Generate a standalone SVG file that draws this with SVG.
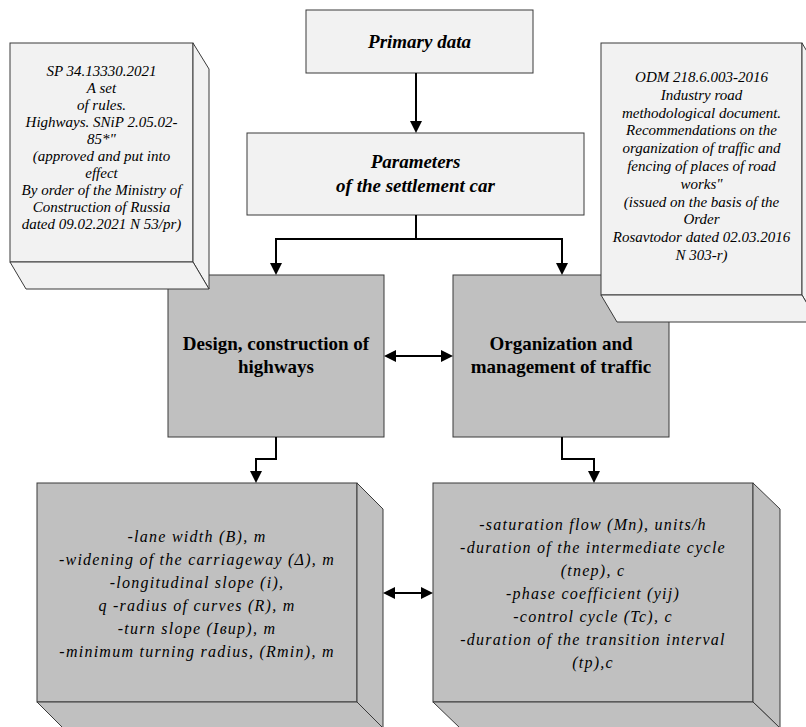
<svg xmlns="http://www.w3.org/2000/svg" width="806" height="727" viewBox="0 0 806 727">
<defs>
<style>
.light{fill:#f2f2f2;stroke:#3a3a3a;stroke-width:1}
.gray{fill:#c0c0c0;stroke:#3a3a3a;stroke-width:1}
.conn{stroke:#000;stroke-width:2;fill:none;stroke-linejoin:miter}
text{font-family:"Liberation Serif","Times New Roman",serif;fill:#000;text-anchor:middle}
.bi{font-weight:bold;font-style:italic;font-size:19px}
.b{font-weight:bold;font-size:19px}
.s{font-style:italic;font-size:15px}
.m{font-style:italic;font-size:16px;letter-spacing:1.25px}
</style>
<marker id="ah" viewBox="0 0 12 12" refX="6" refY="6" markerWidth="12" markerHeight="12" markerUnits="userSpaceOnUse" orient="auto-start-reverse">
<path d="M0,0 L12,6 L0,12 z" fill="#000"/>
</marker>
</defs>
<rect width="806" height="727" fill="#fff"/>

<g id="primary-data">
<rect class="light" x="306" y="10" width="227" height="63"/>
<text class="bi" x="419.5" y="48">Primary data</text>
</g>

<g id="parameters">
<rect class="light" x="247" y="133" width="337" height="82"/>
<text class="bi" x="415.5" y="168">Parameters</text>
<text class="bi" x="415.5" y="192">of the settlement car</text>
</g>

<g id="design">
<rect class="gray" x="168" y="275" width="216" height="162"/>
<text class="b" x="276" y="350">Design, construction of</text>
<text class="b" x="276" y="373">highways</text>
</g>

<g id="organization">
<rect class="gray" x="453" y="275" width="216" height="162"/>
<text class="b" x="561" y="350">Organization and</text>
<text class="b" x="561" y="373">management of traffic</text>
</g>

<g id="sp-rules">
<rect class="light" x="10" y="43" width="183" height="219"/>
<polygon class="light" points="193,43 209,69 209,289 193,262"/>
<polygon class="light" points="10,262 193,262 209,289 26,289"/>
<text class="s" x="101.5" y="76">SP 34.13330.2021</text>
<text class="s" x="101.5" y="93">A set</text>
<text class="s" x="101.5" y="110">of rules.</text>
<text class="s" x="101.5" y="127">Highways. SNiP 2.05.02-</text>
<text class="s" x="101.5" y="144">85*"</text>
<text class="s" x="101.5" y="161">(approved and put into</text>
<text class="s" x="101.5" y="178">effect</text>
<text class="s" x="101.5" y="195">By order of the Ministry of</text>
<text class="s" x="101.5" y="212">Construction of Russia</text>
<text class="s" x="101.5" y="229">dated 09.02.2021 N 53/pr)</text>
</g>

<g id="odm">
<rect class="light" x="601" y="43" width="201" height="252"/>
<polygon class="light" points="802,43 818,70 818,322 802,295"/>
<polygon class="light" points="601,295 802,295 818,322 617,322"/>
<text class="s" x="701.5" y="82">ODM 218.6.003-2016</text>
<text class="s" x="701.5" y="99.8">Industry road</text>
<text class="s" x="701.5" y="117.6">methodological document.</text>
<text class="s" x="701.5" y="135.4">Recommendations on the</text>
<text class="s" x="701.5" y="153.2">organization of traffic and</text>
<text class="s" x="701.5" y="171">fencing of places of road</text>
<text class="s" x="701.5" y="188.8">works"</text>
<text class="s" x="701.5" y="206.6">(issued on the basis of the</text>
<text class="s" x="701.5" y="224.4">Order</text>
<text class="s" x="701.5" y="242.2">Rosavtodor dated 02.03.2016</text>
<text class="s" x="701.5" y="260">N 303-r)</text>
</g>

<g id="road-params">
<rect class="gray" x="37" y="483" width="320" height="219"/>
<polygon class="gray" points="357,483 383,509 383,728 357,702"/>
<polygon class="gray" points="37,702 357,702 383,728 63,728"/>
<text class="m" x="197" y="542">-lane width (B), m</text>
<text class="m" x="197" y="565">-widening of the carriageway (Δ), m</text>
<text class="m" x="197" y="588">-longitudinal slope (i),</text>
<text class="m" x="197" y="611">q -radius of curves (R), m</text>
<text class="m" x="197" y="634">-turn slope (Iвир), m</text>
<text class="m" x="197" y="657">-minimum turning radius, (Rmin), m</text>
</g>

<g id="traffic-params">
<rect class="gray" x="433" y="483" width="320" height="219"/>
<polygon class="gray" points="753,483 780,509 780,728 753,702"/>
<polygon class="gray" points="433,702 753,702 780,728 460,728"/>
<text class="m" x="593" y="530">-saturation flow (Mn), units/h</text>
<text class="m" x="593" y="553">-duration of the intermediate cycle</text>
<text class="m" x="593" y="576">(tnep), c</text>
<text class="m" x="593" y="599">-phase coefficient (yij)</text>
<text class="m" x="593" y="622">-control cycle (Tc), c</text>
<text class="m" x="593" y="645">-duration of the transition interval</text>
<text class="m" x="593" y="668">(tp),c</text>
</g>

<g id="connectors">
<path class="conn" d="M416,73 V127" marker-end="url(#ah)"/>
<path class="conn" d="M416,215 V239"/>
<path class="conn" d="M416,239 H276 V269" marker-end="url(#ah)"/>
<path class="conn" d="M416,239 H562 V269" marker-end="url(#ah)"/>
<path class="conn" d="M390,356 H447" marker-start="url(#ah)" marker-end="url(#ah)"/>
<path class="conn" d="M276,437 V459 H256 V477" marker-end="url(#ah)"/>
<path class="conn" d="M562,437 V459 H594 V477" marker-end="url(#ah)"/>
<path class="conn" d="M389,593 H427" marker-start="url(#ah)" marker-end="url(#ah)"/>
</g>
</svg>
